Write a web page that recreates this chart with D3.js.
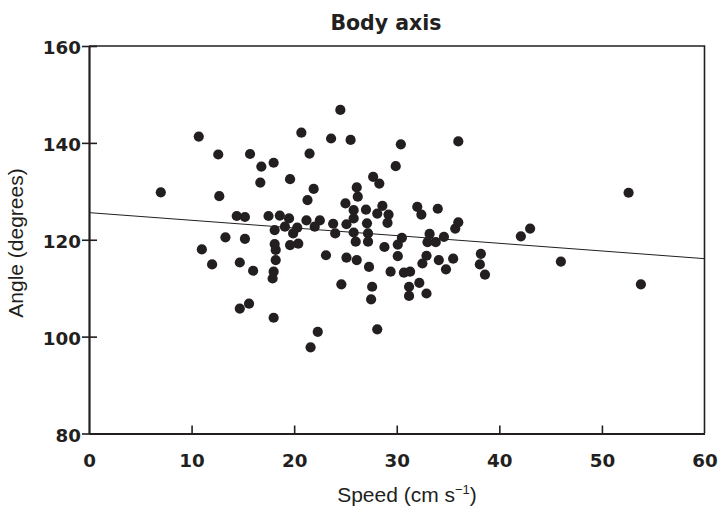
<!DOCTYPE html>
<html>
<head>
<meta charset="utf-8">
<script src="https://cdn.jsdelivr.net/npm/d3@7"></script>
<style>
  body { margin: 0; background: #fff; }
  svg { display: block; }
</style>
</head>
<body>
<div id="chart"></div>
<script>
  // speed (cm s-1) and body-axis angle (degrees)
  var speed = [
    7.0, 10.7, 11.0, 12.0, 12.6, 12.7, 13.3, 14.4, 14.7, 14.7,
    15.2, 15.2, 15.6, 15.7, 16.0, 16.7, 16.8, 17.5, 18.0, 18.1,
    18.1, 18.2, 18.2, 18.0, 17.9, 18.0, 18.6, 19.5, 19.6, 19.1,
    19.9, 20.3, 19.6, 20.4, 20.7, 21.5, 21.9, 21.3, 21.2, 22.5,
    22.0, 21.6, 22.3, 23.1, 23.6, 23.8, 24.0, 24.5, 24.6, 25.5,
    25.0, 25.8, 25.8, 25.1, 25.8, 26.0, 25.1, 26.1, 26.1, 26.2,
    27.0, 27.1, 27.2, 27.2, 27.3, 27.6, 27.5, 28.1, 27.7, 28.3,
    28.6, 28.1, 29.2, 29.1, 28.8, 29.9, 30.4, 30.5, 30.1, 30.1,
    29.4, 30.7, 31.3, 31.2, 31.2, 32.0, 32.4, 34.0, 32.2, 32.9,
    32.5, 32.9, 33.2, 33.0, 33.8, 34.6, 34.1, 34.8, 35.5, 35.7,
    36.0, 36.0, 38.2, 38.1, 38.6, 42.1, 43.0, 46.0, 52.6, 53.8
  ];
  var angle = [
    129.8, 141.3, 118.0, 114.9, 137.6, 129.0, 120.5, 124.9, 115.3, 105.8,
    124.7, 120.2, 106.8, 137.7, 113.6, 131.8, 135.1, 124.9, 135.9, 122.0,
    119.1, 117.9, 115.8, 113.4, 112.0, 103.9, 125.0, 124.4, 132.5, 122.7,
    121.3, 122.5, 118.9, 119.2, 142.1, 137.8, 130.5, 128.2, 124.0, 124.0,
    122.7, 97.8, 101.0, 116.8, 140.9, 123.3, 121.3, 146.8, 110.8, 140.6,
    127.5, 126.1, 124.4, 123.2, 121.5, 119.6, 116.3, 115.8, 130.8, 128.9,
    126.2, 123.4, 121.3, 119.6, 114.4, 110.3, 107.7, 101.5, 133.0, 131.6,
    127.0, 125.4, 125.2, 123.5, 118.5, 135.2, 139.7, 120.4, 119.0, 116.6,
    113.4, 113.2, 113.4, 110.3, 108.4, 126.8, 125.2, 126.4, 111.1, 108.9,
    115.1, 116.7, 121.2, 119.5, 119.5, 120.6, 115.8, 113.9, 116.1, 122.3,
    123.6, 140.3, 117.1, 114.9, 112.8, 120.7, 122.3, 115.5, 129.7, 110.8
  ];

  // regression line end points
  var fitSpeed = [0, 60];
  var fitAngle = [125.6, 116.1];

  var xTicks = [0, 10, 20, 30, 40, 50, 60];
  var yTicks = [80, 100, 120, 140, 160];

  var outerWidth = 720,
      outerHeight = 507,
      margin = {top: 46, right: 15.5, bottom: 73.5, left: 89},
      width = outerWidth - margin.left - margin.right,
      height = outerHeight - margin.top - margin.bottom;

  var svg = d3.select("#chart").append("svg")
      .attr("width", outerWidth)
      .attr("height", outerHeight);

  var g = svg.append("g")
      .attr("transform", "translate(" + margin.left + "," + margin.top + ")");

  var x = d3.scaleLinear().domain([0, 60]).range([0, width]);
  var y = d3.scaleLinear().domain([80, 160]).range([height, 0]);

  var ink = "#231f20";
  var boldFont = "'DejaVu Sans', sans-serif";
  var plainFont = "'Liberation Sans', Arial, sans-serif";

  // points
  var points = speed.map((s, i) => ({speed: s, angle: angle[i]}));

  g.append("g").selectAll("circle")
      .data(points)
    .enter().append("circle")
      .attr("cx", d => x(d.speed))
      .attr("cy", d => y(d.angle))
      .attr("r", 5.1)
      .attr("fill", ink);

  // regression line
  var fit = fitSpeed.map((s, i) => ({speed: s, angle: fitAngle[i]}));
  g.append("path")
      .datum(fit)
      .attr("fill", "none")
      .attr("stroke", ink)
      .attr("stroke-width", 1)
      .attr("d", d3.line().x(d => x(d.speed)).y(d => y(d.angle)));

  // top and right frame, thinner
  g.append("path")
      .attr("fill", "none")
      .attr("stroke", ink)
      .attr("stroke-width", 1.6)
      .attr("d", "M0," + y(160) + "H" + x(60) + "V" + y(80));

  // x axis, ticks pointing inwards
  var xAxis = g.append("g")
      .attr("transform", "translate(0," + height + ")")
      .call(d3.axisBottom(x)
        .tickValues(xTicks)
        .tickSizeInner(-8)
        .tickSizeOuter(0)
        .tickPadding(20));

  xAxis.select(".domain").attr("stroke", ink).attr("stroke-width", 2.2);
  xAxis.selectAll(".tick line")
      .attr("stroke", ink)
      .attr("stroke-width", 1.6)
      .style("display", d => (d === 0 || d === 60) ? "none" : null);
  xAxis.selectAll(".tick text")
      .attr("fill", ink)
      .attr("y", 33)
      .attr("dy", 0)
      .style("font", "bold 18.3px " + boldFont);

  // y axis, ticks crossing the axis
  var yAxis = g.append("g")
      .call(d3.axisLeft(y)
        .tickValues(yTicks)
        .tickSizeOuter(0));

  yAxis.select(".domain").attr("stroke", ink).attr("stroke-width", 2.2);
  yAxis.selectAll(".tick line")
      .attr("stroke", ink)
      .attr("stroke-width", 1.6)
      .attr("x1", -7)
      .attr("x2", 8);
  yAxis.selectAll(".tick text")
      .attr("fill", ink)
      .attr("x", -8)
      .attr("dy", "0.42em")
      .style("font", "bold 18.3px " + boldFont);

  // title
  svg.append("text")
      .attr("x", 386)
      .attr("y", 30)
      .attr("text-anchor", "middle")
      .attr("fill", ink)
      .style("font", "bold 20.5px " + boldFont)
      .text("Body axis");

  // axis titles
  var xLabel = svg.append("text")
      .attr("x", 407)
      .attr("y", 501.5)
      .attr("text-anchor", "middle")
      .attr("fill", ink)
      .style("font", "21px " + plainFont);
  xLabel.append("tspan").text("Speed (cm s");
  xLabel.append("tspan")
      .attr("dy", -8)
      .style("font-size", "13px")
      .text("\u22121");
  xLabel.append("tspan")
      .attr("dy", 8)
      .text(")");

  svg.append("text")
      .attr("transform", "translate(22.5,243) rotate(-90)")
      .attr("text-anchor", "middle")
      .attr("fill", ink)
      .style("font", "21px " + plainFont)
      .text("Angle (degrees)");
</script>
</body>
</html>
